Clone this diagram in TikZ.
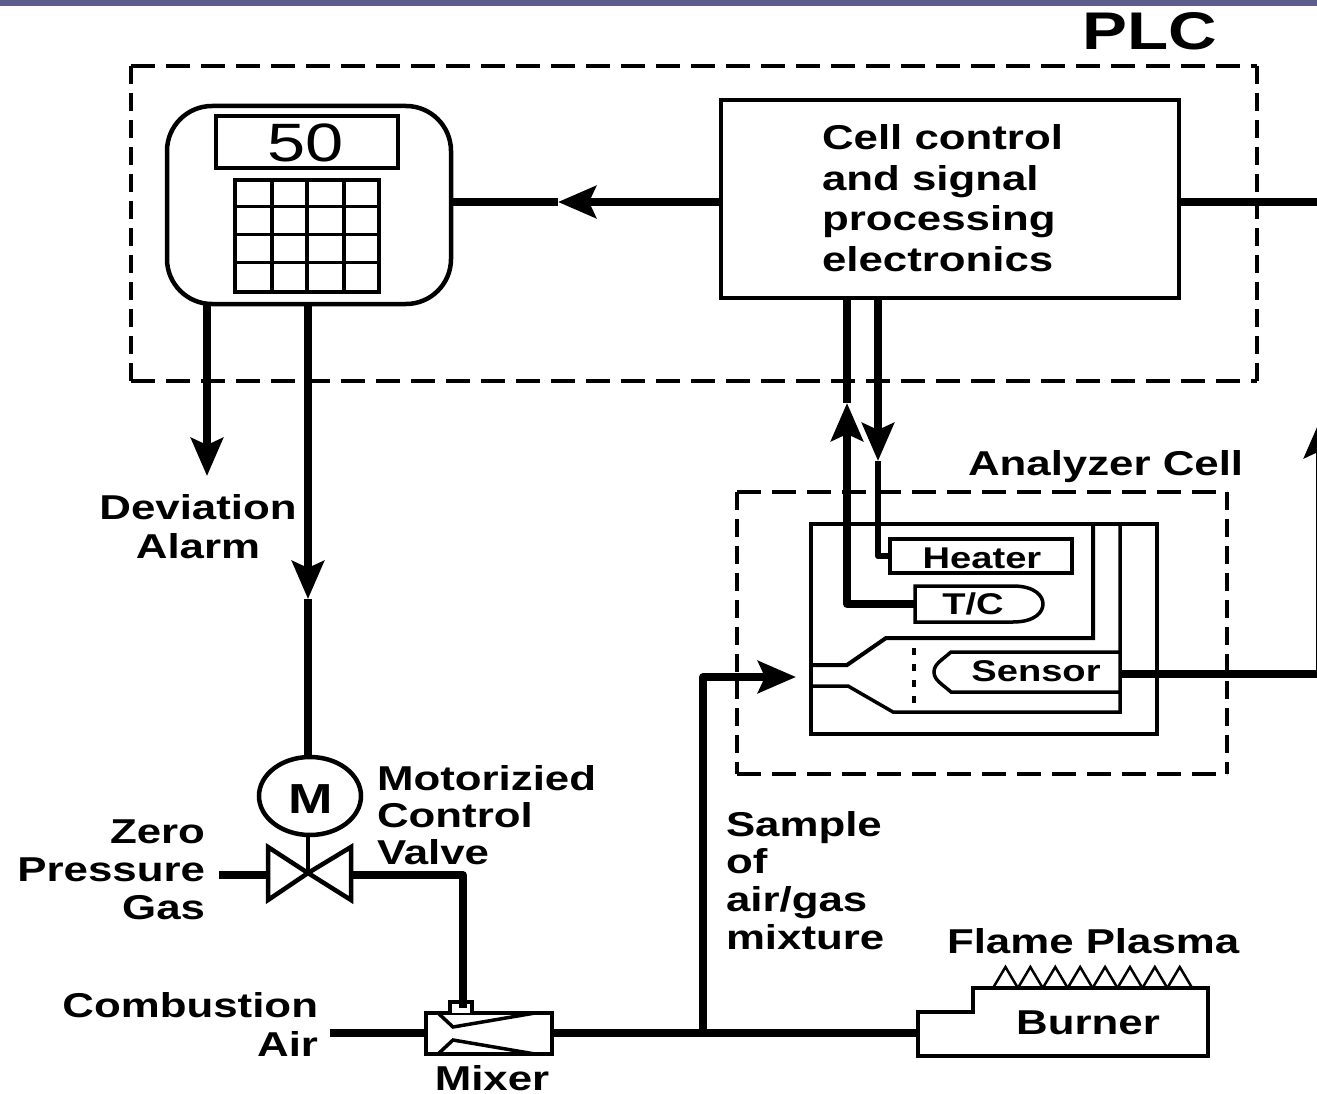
\documentclass[tikz,border=0pt]{standalone}
\usepackage{fontspec}
\setmainfont{Liberation Sans}[FakeStretch=1.27]
\usetikzlibrary{arrows.meta,calc,shapes.geometric}
\tikzset{
  wire/.style={line width=7.5pt,line join=round,black},
  head/.style={-{Stealth[length=38pt,width=32pt,inset=7pt]}},
  box/.style={draw=black,line width=4.5pt,inner sep=0pt,outer sep=0pt,fill=white},
  sbox/.style={draw=black,line width=3.5pt,inner sep=0pt,outer sep=0pt},
  dashh/.style={line width=4.5pt,black,dash pattern=on 24pt off 11pt},
  dashv/.style={line width=4.5pt,black,dash pattern=on 18pt off 9pt},
  lbl/.style={inner sep=0pt,outer sep=0pt,font=\bfseries\fontsize{34.5}{39}\selectfont},
  small/.style={inner sep=0pt,outer sep=0pt,font=\bfseries\fontsize{30}{32}\selectfont},
}
\begin{document}
\begin{tikzpicture}[x=1pt,y=-1pt]
\useasboundingbox (0,0) rectangle (1317,1094);
\clip (0,0) rectangle (1317,1094);
\fill[white] (0,0) rectangle (1317,1094);
\fill[fill={rgb,255:red,93;green,93;blue,141}] (0,0) rectangle (1317,6);
% PLC enclosure
\draw[dashh] (131,66) -- (1257,66);
\draw[dashh] (131,381) -- (1257,381);
\draw[dashv] (131,66) -- (131,381);
\draw[dashv] (1257,66) -- (1257,381);
\node[anchor=base east,inner sep=0pt,font=\bfseries\fontsize{53}{53}\selectfont] (plc) at (1217,50) {PLC};
% controller
\node[box,fill=none,rounded corners=45pt,minimum width=284pt,minimum height=198pt] (ctrl) at (309,205) {};
\node[box,fill=none,minimum width=182pt,minimum height=52pt] (disp) at (307,142) {};
\node[inner sep=0pt,font=\fontsize{54}{54}\selectfont] (val) at (306,143) {50};
\node[sbox,minimum width=144pt,minimum height=112pt] (keys) at (307,236) {};
\foreach \kx in {272,307,344} \draw[line width=3.5pt] (\kx,180) -- (\kx,292);
\foreach \ky in {207,235,262} \draw[line width=3pt] (235,\ky) -- (379,\ky);
% cell control
\node[box,fill=none,minimum width=458pt,minimum height=198pt] (cell) at (950,199) {};
\node[lbl,align=left,anchor=north west,font=\bfseries\fontsize{34.5}{40.5}\selectfont] (celltxt) at (822,125) {Cell control\\and signal\\processing\\electronics};
% connector coordinates
\coordinate (cw) at (721,202);
\coordinate (ce) at (1179,202);
\coordinate (ca) at (ctrl.east |- cw);
\coordinate (tipa) at (558,202);
\coordinate (re) at (1325,202);
\draw[wire,head] (cw) -- (tipa);
\draw[wire] (tipa) -- (ca);
\draw[wire] (ce) -- (re);
% alarm and valve drive
\coordinate (a1) at (207,304);
\coordinate (a2) at (207,476);
\draw[wire,head] (a1) -- (a2);
\node[lbl,align=center,anchor=north] (dev) at (198,494) {Deviation\\Alarm};
% motor and valve
\node[draw=black,line width=4.5pt,ellipse,inner sep=0pt,outer sep=0pt,minimum width=102pt,minimum height=78pt] (mot) at (310,796) {};
\node[inner sep=0pt,font=\bfseries\fontsize{42}{42}\selectfont] (mt) at (311,799) {M};
\coordinate (d1) at (308,304);
\coordinate (d2) at (308,599);
\coordinate (d3) at (308,757);
\draw[wire,head] (d1) -- (d2);
\draw[wire] (d2) -- (d3);
\coordinate (vc) at (308,873);
\coordinate (vl) at (268,875);
\coordinate (vr) at (351,875);
\draw[line width=4pt] (308,835) -- (vc);
\draw[line width=4.5pt,line join=miter] (vc) -- (268,847) -- (268,900) -- cycle;
\draw[line width=4.5pt,line join=miter] (vc) -- (351,847) -- (351,900) -- cycle;
\node[lbl,align=left,anchor=north west,font=\bfseries\fontsize{34.5}{37}\selectfont] (mcv) at (377,765) {Motorizied\\Control\\Valve};
\node[lbl,align=right,anchor=north east,font=\bfseries\fontsize{34.5}{38}\selectfont] (zpg) at (205,820) {Zero\\Pressure\\Gas};
\coordinate (z0) at (219,875);
\draw[wire] (z0) -- (vl);
% mixer
\node[sbox,fill=white,minimum width=126pt,minimum height=41pt] (mix) at (489,1033.5) {};
\draw[line width=3.5pt,fill=white] (450,1013) -- (450,1002) -- (472,1002) -- (472,1013);
\draw[line width=3.5pt] (438,1013) -- (453,1027) -- (535,1013);
\draw[line width=3.5pt] (438,1054) -- (453,1040) -- (535,1054);
\coordinate (mt1) at (463,1008);
\draw[wire] (vr) -- (463,875) -- (mt1);
\node[lbl,anchor=base] (mixl) at (492,1090) {Mixer};
\coordinate (air) at (330,1033);
\draw[wire] (air) -- (mix.west |- air);
\node[lbl,align=right,anchor=north east] (cal) at (318,992) {Combustion\\Air};
% burner
\coordinate (bw) at (918,1033);
\draw[line width=4.5pt,line join=miter] (bw |- 0,1012) -- (973,1012) -- (973,988) -- (1208,988) -- (1208,1056) -- (bw |- 0,1056) -- cycle;
\foreach \n in {0,...,7} \draw[line width=2.5pt,line join=miter] ({993+\n*24.9},988) -- ({993+\n*24.9+12.45},967) -- ({993+\n*24.9+24.9},988);
\node[lbl,anchor=base] (burn) at (1088,1034) {Burner};
\node[lbl,anchor=base west] (flame) at (947,953) {Flame Plasma};
\coordinate (j) at (703,1033);
\coordinate (st) at (796,677);
\draw[wire] (mix.east |- bw) -- (bw);
\draw[wire,head] (j) -- (703,677) -- (st);
\node[lbl,align=left,anchor=north west,font=\bfseries\fontsize{34.5}{37.7}\selectfont] (samp) at (726,811) {Sample\\of\\air/gas\\mixture};
% analyzer
\draw[dashh] (737,492) -- (1227,492);
\draw[dashh] (737,774) -- (1227,774);
\draw[dashv] (737,492) -- (737,774);
\draw[dashv] (1227,492) -- (1227,774);
\node[lbl,anchor=base west] (anal) at (968,475) {Analyzer Cell};
\node[box,fill=none,minimum width=346pt,minimum height=210pt] (cellbox) at (984,629) {};
\draw[line width=4pt,line join=miter] (1093,524) -- (1093,638) -- (886,638) -- (847,665) -- (811,665);
\draw[line width=3.5pt,line join=miter] (1120,524) -- (1120,712) -- (893,712) -- (848,686) -- (811,686);
\draw[line width=3.5pt,dash pattern=on 7pt off 9pt] (914,648) -- (914,703);
\node[sbox,minimum width=182pt,minimum height=34pt] (heater) at (981,556) {};
\node[small,anchor=base] (ht) at (982,568) {Heater};
\draw[line width=3.5pt,line join=miter] (915,586) -- (1013,586) .. controls (1035,586) and (1043,596) .. (1043,604) .. controls (1043,612) and (1035,622) .. (1013,622) -- (915,622) -- cycle;
\coordinate (tcw) at (915,604);
\node[small,anchor=base] (tct) at (973,614) {T/C};
\draw[line width=3.5pt,line join=miter] (1120,652) -- (951,652) .. controls (942,660) and (934,664) .. (934,672) .. controls (934,680) and (942,684) .. (951,692) -- (1120,692);
\coordinate (sw) at (1120,674);
\node[small,anchor=base] (st2) at (1036,681) {Sensor};
% signal lines
\coordinate (b1) at (847,298);
\coordinate (b2) at (847,403);
\draw[wire,head] (tcw) -- (847,604) -- (b2);
\draw[wire] (b2) -- (b1);
\coordinate (h1) at (878,298);
\coordinate (h2) at (878,461);
\draw[wire,head] (h1) -- (h2);
\draw[line width=6pt,line join=round] (h2) -- (878,556) -- (heater.west);
\draw[wire,head] (sw) -- (1320,674) -- (1320,420);
\end{tikzpicture}
\end{document}
